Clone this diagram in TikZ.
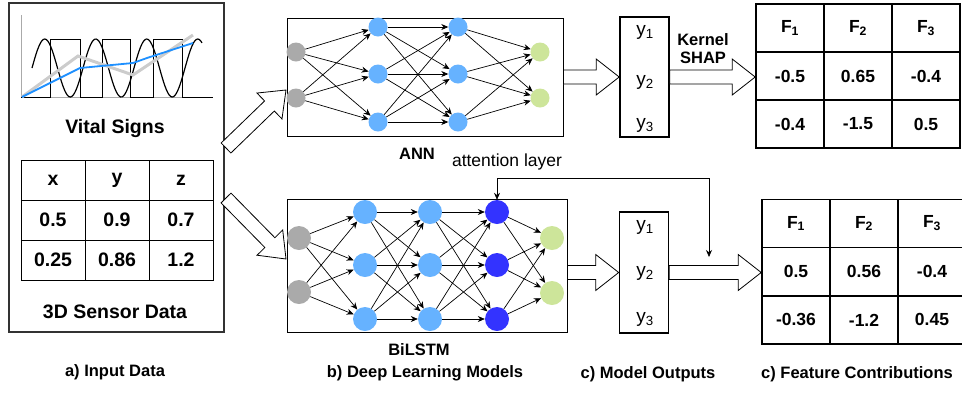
\documentclass[tikz,border=0pt]{standalone}
\usepackage{fontspec}
\setmainfont{Liberation Sans}
\usetikzlibrary{arrows.meta,calc}

\definecolor{ingray}{RGB}{170,170,170}
\definecolor{hidblue}{RGB}{102,178,255}
\definecolor{attblue}{RGB}{51,51,255}
\definecolor{outgreen}{RGB}{205,229,154}
\definecolor{plotblue}{RGB}{30,144,255}

\newcommand{\txt}{\fontsize{17.5}{20}\selectfont}
\newcommand{\ytxt}{\fontsize{19}{20}\selectfont}
\newcommand{\ltxt}{\fontsize{19.5}{22}\selectfont\bfseries}
\newcommand{\btxt}{\fontsize{16.5}{18}\selectfont\bfseries}
\newcommand{\ftxt}{\fontsize{17.5}{20}\selectfont\bfseries}

\tikzset{
  neuron/.style={circle, minimum size=19pt, inner sep=0pt},
  bigneuron/.style={circle, minimum size=24pt, inner sep=0pt},
  edge/.style={-{Stealth[length=7pt,width=6pt]}, line width=0.7pt},
  incell/.style={draw, line width=0.9pt, minimum width=64pt, minimum height=40pt, inner sep=0pt, font=\ltxt},
  fcell/.style={draw, line width=1.6pt, minimum width=68pt, minimum height=48pt, inner sep=0pt, font=\ftxt},
  fatline/.style={draw=black, fill=white, line width=0.8pt, line join=miter},
  ybox/.style={draw, line width=1.6pt, minimum width=49pt, minimum height=120pt},
  netbox/.style={draw, line width=0.8pt},
  caption/.style={font=\btxt}
}

% hollow block arrow from #1 (tail) to #2 (tip)
\newcommand{\fatarrow}[2]{%
  \coordinate (fa-h) at ($(#2)!23pt!(#1)$);
  \draw[fatline] ($(#1)!7pt!90:(#2)$) -- ($(fa-h)!7pt!90:(#2)$) -- ($(fa-h)!18pt!90:(#2)$)
     -- (#2) -- ($(fa-h)!18pt!-90:(#2)$) -- ($(fa-h)!7pt!-90:(#2)$) -- ($(#1)!7pt!-90:(#2)$) -- cycle;
}

\begin{document}
\begin{tikzpicture}[x=1pt, y=-1pt, font=\txt]

\useasboundingbox (0,0) rectangle (962,392);

% a) input data
\node[draw=black!80, line width=1.8pt, minimum width=215pt, minimum height=329pt] (inbox) at (116.5,167.5) {};

\draw [ingray, line width=1pt] (21,15) -- (21,97) -- (213,97);
\draw [black, line width=0.9pt] (21,97) -- (50,97) -- (50,39) -- (80,39) -- (80,97) -- (102,97) -- (102,39)
   -- (130,39) -- (130,97) -- (153,97) -- (153,39) -- (182,39) -- (182,97) -- (213,97);
\draw [black, line width=1.2pt] plot[domain=32:202, samples=120, smooth] (\x, {68-29*sin((\x-32)/51*360)});
\draw [black!20, line width=3pt] (22,97) -- (78,56) -- (133,75) -- (193,35);
\draw [plotblue, line width=1.8pt] (22,97) -- (80,68) -- (133,63) -- (147,58) -- (193,43);

\node[font=\ltxt] (vital) at (115,128) {Vital Signs};

\foreach \row [count=\r] in {{x,y,z},{0.5,0.9,0.7},{0.25,0.86,1.2}}
   \foreach \v [count=\c] in \row
      \node[incell] (s\r\c) at ({21+64*\c-32},{160+40*\r-20}) {\v};

\node[font=\ltxt] (sensor) at (115,312) {3D Sensor Data};
\node[caption] (capa) at (115,372) {a) Input Data};

% b) ANN
\node[netbox, minimum width=276pt, minimum height=118pt] (annbox) at (425,77) {};

\foreach \y [count=\i] in {52,98} \node[neuron, fill=ingray] (ai\i) at (296,\y) {};
\foreach \y [count=\i] in {27,74,122} \node[neuron, fill=hidblue] (ah\i) at (378,\y) {};
\foreach \y [count=\i] in {27,74,122} \node[neuron, fill=hidblue] (ag\i) at (458,\y) {};
\foreach \y [count=\i] in {52,98} \node[neuron, fill=outgreen] (ao\i) at (540,\y) {};

\foreach \i in {1,2} \foreach \j in {1,2,3} \draw[edge] (ai\i) -- (ah\j);
\foreach \i in {1,2,3} \foreach \j in {1,2,3} \draw[edge] (ah\i) -- (ag\j);
\foreach \i in {1,2,3} \foreach \j in {1,2} \draw[edge] (ag\i) -- (ao\j);

\node[font=\btxt] (annlbl) at (417,154) {ANN};

% b) BiLSTM
\node[netbox, minimum width=280pt, minimum height=133pt] (lstmbox) at (427,265.5) {};

\foreach \y [count=\i] in {238,292} \node[bigneuron, fill=ingray] (bi\i) at (299,\y) {};
\foreach \y [count=\i] in {212,265,319} \node[bigneuron, fill=hidblue] (bf\i) at (365,\y) {};
\foreach \y [count=\i] in {212,265,319} \node[bigneuron, fill=hidblue] (bb\i) at (430,\y) {};
\foreach \y [count=\i] in {212,265,319} \node[bigneuron, fill=attblue] (bt\i) at (497,\y) {};
\foreach \y [count=\i] in {238,293} \node[bigneuron, fill=outgreen] (bo\i) at (552,\y) {};

\foreach \i in {1,2} \foreach \j in {1,2,3} \draw[edge] (bi\i) -- (bf\j);
\foreach \i in {1,2,3} \foreach \j in {1,2,3} \draw[edge] (bf\i) -- (bb\j);
\foreach \i in {1,2,3} \foreach \j in {1,2,3} \draw[edge] (bb\i) -- (bt\j);
\foreach \i in {1,2,3} \foreach \j in {1,2} \draw[edge] (bt\i) -- (bo\j);

\node[font=\btxt] (lstmlbl) at (419,350) {BiLSTM};
\node[caption] (capb) at (425,373) {b) Deep Learning Models};

% attention layer
\node (attlbl) at (507,162) {attention layer};
\coordinate (attend) at (709,257);
\draw[{Stealth[length=7pt,width=6pt]}-{Stealth[length=7pt,width=6pt]}, line width=0.7pt] (bt1.north) |- (709,178) -- (attend);

% c) model outputs
\node[ybox] (yout1) at (644.5,77) {};
\node[font=\ytxt] (ya1) at (645,32) {y\textsubscript{1}};
\node[font=\ytxt] (ya2) at (645,82) {y\textsubscript{2}};
\node[font=\ytxt] (ya3) at (645,125) {y\textsubscript{3}};

\node[ybox, minimum height=121pt] (yout2) at (644,272.5) {};
\node[font=\ytxt] (yb1) at (645,227) {y\textsubscript{1}};
\node[font=\ytxt] (yb2) at (645,273) {y\textsubscript{2}};
\node[font=\ytxt] (yb3) at (645,319) {y\textsubscript{3}};

\node[caption] (capc) at (648,374) {c) Model Outputs};

% feature contributions
\foreach \row [count=\r] in {{F\textsubscript{1},F\textsubscript{2},F\textsubscript{3}},{-0.5,0.65,-0.4},{-0.4,-1.5,0.5}}
   \foreach \v [count=\c] in \row
      \node[fcell] (ft\r\c) at ({756+68*\c-34},{4+48*\r-24}) {\v};

\foreach \row [count=\r] in {{F\textsubscript{1},F\textsubscript{2},F\textsubscript{3}},{0.5,0.56,-0.4},{-0.36,-1.2,0.45}}
   \foreach \v [count=\c] in \row
      \node[fcell] (fb\r\c) at ({762+68*\c-34},{199+48.3*\r-24}) {\v};

\node[caption] (capd) at (857,374) {c) Feature Contributions};
\node[font=\btxt, align=center] (shap) at (703,49) {Kernel\\SHAP};

% block arrows
\coordinate (upt) at (226,148);
\coordinate (upp) at (286,90);
\coordinate (dnt) at (226,198);
\coordinate (dnp) at (286,259);
\coordinate (ta) at (yout1.east -| ft21.west);
\coordinate (la) at (yout2.west -| lstmbox.east);
\coordinate (tb) at (yout2.east -| fb21.west);

\fatarrow{upt}{upp}
\fatarrow{dnt}{dnp}
\fatarrow{annbox.east}{yout1.west}
\fatarrow{yout1.east}{ta}
\fatarrow{la}{yout2.west}
\fatarrow{yout2.east}{tb}

\end{tikzpicture}
\end{document}
